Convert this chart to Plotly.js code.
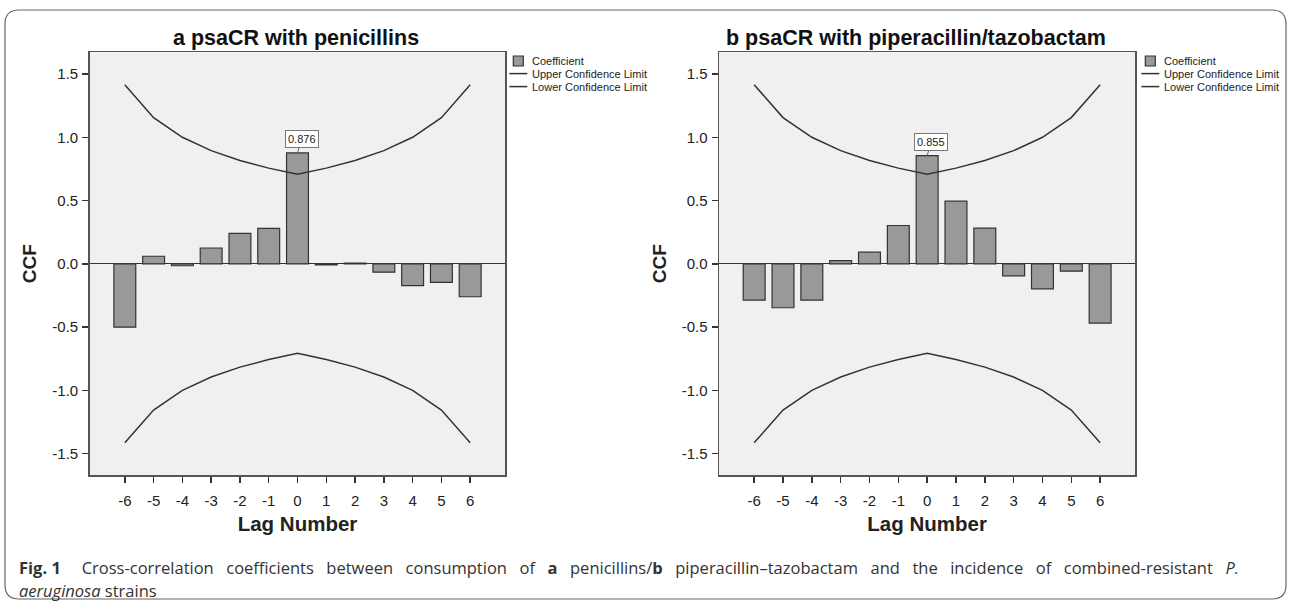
<!DOCTYPE html>
<html><head><meta charset="utf-8">
<script src="https://cdn.plot.ly/plotly-3.0.1.min.js"></script>
<style>html,body{margin:0;padding:0;background:#fff;} #chart{width:1290px;height:601px;}</style>
</head><body><div id="chart"></div>
<script>
// ---- data ----
const lags = [-6, -5, -4, -3, -2, -1, 0, 1, 2, 3, 4, 5, 6];
const xTickText = ['-6', '-5', '-4', '-3', '-2', '-1', '0', '1', '2', '3', '4', '5', '6'];
const coefPenicillins = [-0.50, 0.06, -0.015, 0.125, 0.24, 0.28, 0.876, -0.008, 0.005, -0.066, -0.172, -0.146, -0.26];
const coefPipTazo = [-0.287, -0.347, -0.287, 0.026, 0.092, 0.303, 0.855, 0.495, 0.282, -0.095, -0.197, -0.058, -0.468];
const upperLimit = [1.414, 1.155, 1.0, 0.894, 0.816, 0.756, 0.707, 0.756, 0.816, 0.894, 1.0, 1.155, 1.414];
const lowerLimit = [-1.414, -1.155, -1.0, -0.894, -0.816, -0.756, -0.707, -0.756, -0.816, -0.894, -1.0, -1.155, -1.414];
const yTickVals = [-1.5, -1.0, -0.5, 0, 0.5, 1.0, 1.5];
const yTickText = ['-1.5', '-1.0', '-0.5', '0.0', '0.5', '1.0', '1.5'];
const panelTitles = ['a psaCR with penicillins', 'b psaCR with piperacillin/tazobactam'];
const seriesNames = ['Coefficient', 'Upper Confidence Limit', 'Lower Confidence Limit'];
const yTitle = 'CCF';
const xTitle = 'Lag Number';
const captionWords1 = ['Cross-correlation', 'coefficients', 'between', 'consumption', 'of', '<b>a</b>',
  'penicillins/<b>b</b>', 'piperacillin\u2013tazobactam', 'and', 'the', 'incidence', 'of',
  'combined-resistant', '<i>P.</i>'];
const captionLine1 = '<b>Fig.\u00a01</b>\u2003 ' + captionWords1.join('\u2002 ');
const captionLine2 = '<i>aeruginosa</i> strains';

// ---- layout helpers (pixel -> paper) ----
const W = 1290, H = 601;
const px = v => v / W;
const py = v => 1 - v / H;

const FONT = 'Liberation Sans, Arial, sans-serif';
const panels = [
  {coef: coefPenicillins, x0: 89.7, x1: 505.3, xa: 'x', ya: 'y', titleX: 296},
  {coef: coefPipTazo, x0: 719, x1: 1135.3, xa: 'x2', ya: 'y2', titleX: 916}
];
const plotTop = 52.3, plotBottom = 475;
const legendRows = [61, 73.6, 86.6];

const traces = [];
const annotations = [];
const shapes = [];
const layout = {
  width: W, height: H,
  margin: {l: 0, r: 0, t: 0, b: 0},
  paper_bgcolor: '#ffffff',
  plot_bgcolor: '#f0f0f0',
  showlegend: false,
  font: {family: FONT, color: '#222'},
  shapes: shapes,
  annotations: annotations
};

panels.forEach((p, i) => {
  traces.push({
    type: 'bar', x: lags, y: p.coef, width: 0.76, name: seriesNames[0],
    marker: {color: '#999999', line: {color: '#333333', width: 1.2}},
    xaxis: p.xa, yaxis: p.ya
  });
  traces.push({
    type: 'scatter', mode: 'lines', x: lags, y: upperLimit, name: seriesNames[1],
    line: {color: '#333333', width: 1.5},
    xaxis: p.xa, yaxis: p.ya
  });
  traces.push({
    type: 'scatter', mode: 'lines', x: lags, y: lowerLimit, name: seriesNames[2],
    line: {color: '#333333', width: 1.5},
    xaxis: p.xa, yaxis: p.ya
  });

  const sfx = i === 0 ? '' : '2';
  layout['xaxis' + sfx] = {
    domain: [px(p.x0), px(p.x1)], anchor: p.ya,
    range: [-7.22, 7.22], tickvals: lags, ticktext: xTickText,
    ticks: 'outside', ticklen: 6, tickwidth: 1.5, tickcolor: '#333',
    ticklabelstandoff: 5,
    showline: true, mirror: true, linecolor: '#555', linewidth: 1.5,
    showgrid: false, zeroline: false, fixedrange: true,
    tickfont: {family: FONT, size: 15, color: '#222'},
    title: {text: xTitle, standoff: 9, font: {family: FONT, size: 20.5, weight: 700, color: '#222'}}
  };
  layout['yaxis' + sfx] = {
    domain: [py(plotBottom), py(plotTop)], anchor: p.xa,
    range: [-1.668, 1.671], tickvals: yTickVals, ticktext: yTickText,
    ticks: 'outside', ticklen: 6, tickwidth: 1.5, tickcolor: '#333',
    ticklabelstandoff: 1,
    showline: true, mirror: true, linecolor: '#555', linewidth: 1.5,
    showgrid: false, zeroline: true, zerolinecolor: '#333', zerolinewidth: 1.3,
    fixedrange: true,
    tickfont: {family: FONT, size: 15, color: '#222'},
    title: {text: yTitle, standoff: 10, font: {family: FONT, size: 19, weight: 700, color: '#222'}}
  };

  // panel title
  annotations.push({
    xref: 'paper', yref: 'paper', x: px(p.titleX), y: py(38),
    xanchor: 'center', yanchor: 'middle', showarrow: false,
    text: panelTitles[i], font: {family: FONT, size: 21.5, weight: 700, color: '#111'}
  });

  // peak value label
  let k = 0;
  p.coef.forEach((v, j) => { if (v > p.coef[k]) k = j; });
  annotations.push({
    xref: p.xa, yref: p.ya, x: lags[k], y: p.coef[k],
    text: p.coef[k].toFixed(3), showarrow: true, arrowhead: 0, arrowwidth: 1,
    arrowcolor: '#666', ax: 4, ay: -14, standoff: 0,
    bgcolor: '#ffffff', bordercolor: '#777', borderwidth: 1, borderpad: 2,
    font: {family: FONT, size: 11, color: '#222'}
  });

  // legend (drawn beside the plot)
  const lx = p.x1 + (i === 0 ? 0 : 2);
  shapes.push({type: 'rect', xref: 'paper', yref: 'paper',
    x0: px(lx + 8), x1: px(lx + 18), y0: py(legendRows[0] + 5), y1: py(legendRows[0] - 5),
    fillcolor: '#999999', line: {color: '#333', width: 1.2}});
  [1, 2].forEach(r => {
    shapes.push({type: 'line', xref: 'paper', yref: 'paper',
      x0: px(lx + 4), x1: px(lx + 22), y0: py(legendRows[r]), y1: py(legendRows[r]),
      line: {color: '#333', width: 1.5}});
  });
  seriesNames.forEach((nm, r) => {
    annotations.push({
      xref: 'paper', yref: 'paper', x: px(lx + 25), y: py(legendRows[r]),
      xanchor: 'left', yanchor: 'middle', showarrow: false, text: nm,
      font: {family: FONT, size: 11, color: '#222'}
    });
  });
});

// caption
annotations.push({
  xref: 'paper', yref: 'paper', x: px(17), y: py(567), xanchor: 'left', yanchor: 'middle',
  showarrow: false, text: captionLine1, align: 'left',
  font: {family: 'Open Sans, sans-serif', size: 16.5, color: '#333'}
});
annotations.push({
  xref: 'paper', yref: 'paper', x: px(17), y: py(590), xanchor: 'left', yanchor: 'middle',
  showarrow: false, text: captionLine2, align: 'left',
  font: {family: 'Open Sans, sans-serif', size: 16.5, color: '#333'}
});

// rounded outer frame
(function () {
  const x0 = 5, y0 = 10, x1 = 1286, y1 = 599, r = 14;
  const P = (x, y) => px(x) + ',' + py(y);
  const path = 'M' + P(x0, y0 + r) + ' Q' + P(x0, y0) + ' ' + P(x0 + r, y0) +
    ' L' + P(x1 - r, y0) + ' Q' + P(x1, y0) + ' ' + P(x1, y0 + r) +
    ' L' + P(x1, y1 - r) + ' Q' + P(x1, y1) + ' ' + P(x1 - r, y1) +
    ' L' + P(x0 + r, y1) + ' Q' + P(x0, y1) + ' ' + P(x0, y1 - r) + ' Z';
  shapes.push({type: 'path', xref: 'paper', yref: 'paper', path: path,
    line: {color: '#666', width: 1.2}, fillcolor: 'rgba(0,0,0,0)', layer: 'below'});
})();

Plotly.newPlot('chart', traces, layout, {displayModeBar: false, staticPlot: true});
</script>
</body></html>
